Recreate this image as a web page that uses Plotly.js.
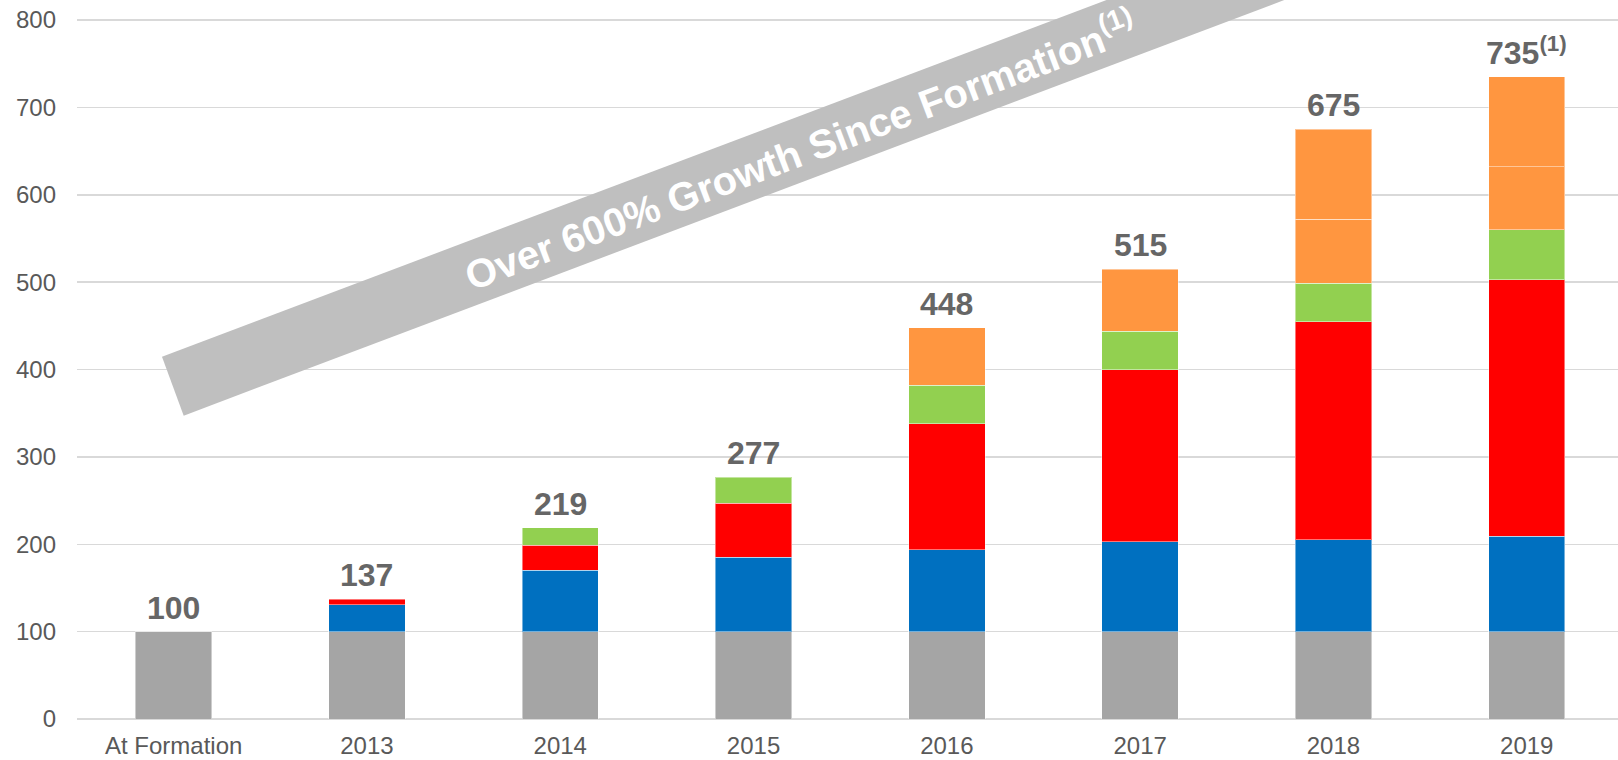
<!DOCTYPE html>
<html>
<head>
<meta charset="utf-8">
<script src="https://cdn.plot.ly/plotly-3.0.1.min.js"></script>
<style>html,body{margin:0;padding:0;background:#fff;}#chart{width:1618px;height:760px;}</style>
</head>
<body>
<div id="chart"></div>
<script>
// ---- data ----
const categories = ['At Formation', '2013', '2014', '2015', '2016', '2017', '2018', '2019'];
const baseSeries   = [100, 100, 100, 100, 100, 100, 100, 100];
const blueSeries   = [null, 31, 70, 85, 94, 103, 105, 109];
const redSeries    = [null, 6, 29, 62, 144, 197, 250, 294];
const greenSeries  = [null, null, 20, 30, 44, 44, 44, 57];
const orangeSeries = [null, null, null, null, 66, 71, 73, 72];
const orange2Series= [null, null, null, null, null, null, 103, 103];
const totals       = [100, 137, 219, 277, 448, 515, 675, 735];
const footnotes    = ['', '', '', '', '', '', '', '(1)'];
const yTicks       = [0, 100, 200, 300, 400, 500, 600, 700, 800];
const bannerText   = 'Over 600% Growth Since Formation';
const bannerNote   = '(1)';

// ---- styling ----
const FONT = 'Liberation Sans, Arial, Helvetica, sans-serif';
const segLine = {color: 'rgba(255,255,255,0.45)', width: 1};
function barTrace(vals, color) {
  return {type: 'bar', x: categories, y: vals, marker: {color: color, line: segLine},
          hoverinfo: 'skip', width: 0.395};
}
const data = [
  barTrace(baseSeries, '#A5A5A5'),
  barTrace(blueSeries, '#0070C0'),
  barTrace(redSeries, '#FF0000'),
  barTrace(greenSeries, '#92D050'),
  barTrace(orangeSeries, '#FF9640'),
  barTrace(orange2Series, '#FF9640')
];

// category position = serial index on the category axis
const annotations = categories.map((c, i) => ({
  x: i, y: totals[i], xref: 'x', yref: 'y',
  text: totals[i] + (footnotes[i] ? '<sup>' + footnotes[i] + '</sup>' : ''),
  showarrow: false, yanchor: 'bottom', xanchor: 'center', yshift: 4,
  font: {family: FONT, size: 32, color: '#666666', weight: 'bold'}
}));

// banner (decorative ribbon) geometry in axis units
const bannerAngle = -20.7;
annotations.push({
  x: 3.24, y: 652, xref: 'x', yref: 'y', showarrow: false,
  text: bannerText + '<sup>' + bannerNote + '</sup>',
  textangle: bannerAngle, xanchor: 'center', yanchor: 'middle',
  font: {family: FONT, size: 40, color: '#FFFFFF', weight: 'bold'}
});

const shapes = [{
  type: 'path', xref: 'x', yref: 'y', layer: 'above',
  path: 'M -0.0603 414.6 L 0.052 347.2 L 6.777 909.2 L 6.665 976.7 Z',
  fillcolor: '#BFBFBF', line: {width: 0}
}];

const layout = {
  width: 1618, height: 760,
  margin: {l: 77, r: 0, t: 0, b: 40.5, pad: 0},
  paper_bgcolor: '#FFFFFF', plot_bgcolor: '#FFFFFF',
  barmode: 'stack', showlegend: false,
  xaxis: {type: 'category', range: [-0.5, 7.472], showgrid: false, zeroline: false,
          showline: false, ticks: '', ticklabelstandoff: 10,
          tickfont: {family: FONT, size: 24, color: '#595959'}, fixedrange: true},
  yaxis: {range: [0, 823], tickvals: yTicks, ticktext: yTicks.map(String),
          showgrid: true, gridcolor: '#D9D9D9', gridwidth: 1.5,
          zeroline: true, zerolinecolor: '#D9D9D9', zerolinewidth: 1.5,
          showline: false, ticks: '', ticklabelstandoff: 20,
          tickfont: {family: FONT, size: 24, color: '#595959'}, fixedrange: true},
  annotations: annotations,
  shapes: shapes
};

Plotly.newPlot('chart', data, layout, {displayModeBar: false, staticPlot: true});
</script>
</body>
</html>
